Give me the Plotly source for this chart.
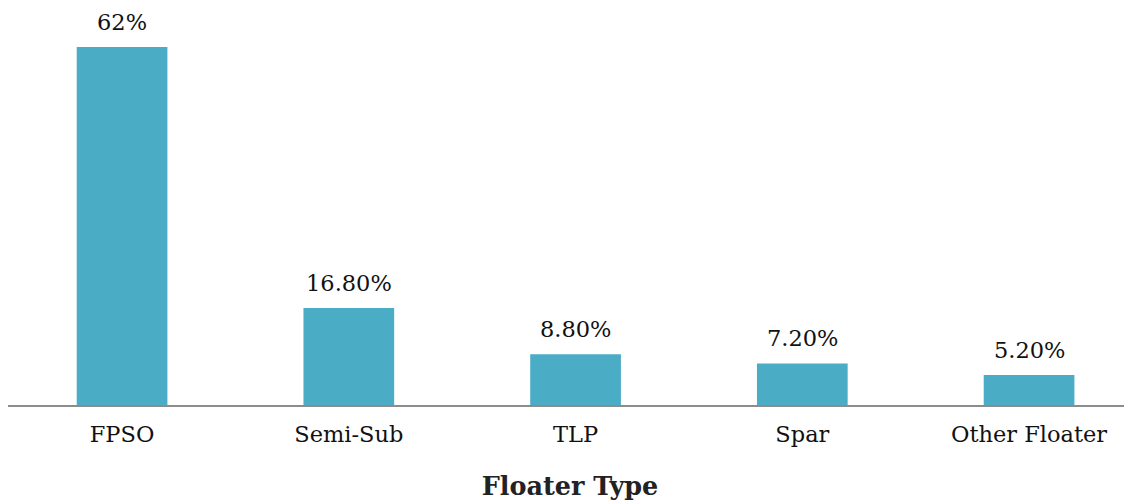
import plotly.graph_objects as go

categories = ["FPSO", "Semi-Sub", "TLP", "Spar", "Other Floater"]
values = [62, 16.8, 8.8, 7.2, 5.2]
labels = ["62%", "16.80%", "8.80%", "7.20%", "5.20%"]

FONT = "DejaVu Serif"

fig = go.Figure()
fig.add_trace(go.Bar(
    x=list(range(len(categories))), y=values,
    marker=dict(color="#4BACC6", line=dict(width=0)),
    width=0.4,
    hoverinfo="skip",
))
for i, (v, t) in enumerate(zip(values, labels)):
    fig.add_annotation(x=i, y=v, text=t, showarrow=False, yanchor="bottom",
                       yshift=10, font=dict(family=FONT, size=22.5, color="#111"))

fig.update_layout(
    width=1124, height=493,
    margin=dict(l=0, r=0, t=2, b=96),
    plot_bgcolor="white", paper_bgcolor="white",
    showlegend=False,
    font=dict(family=FONT, size=22.5, color="#111"),
    xaxis=dict(
        tickmode="array", tickvals=list(range(len(categories))), ticktext=categories,
        range=[-0.503, 4.454], showgrid=False, zeroline=False,
        showline=True, linecolor="#8c8c8c", linewidth=2,
        ticks="", ticklen=0, ticklabelstandoff=8,
        tickfont=dict(family=FONT, size=22.5, color="#111"),
        title=dict(text="<b>Floater Type</b>", font=dict(family=FONT, size=25.5, color="#222"), standoff=32),
    ),
    yaxis=dict(range=[0, 68.4], visible=False, showgrid=False, zeroline=False),
)
fig.write_html("out.html")
